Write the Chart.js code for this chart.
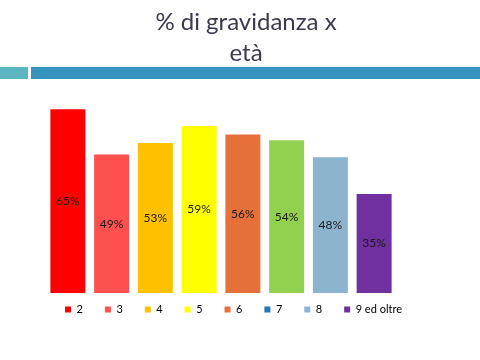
<!DOCTYPE html>
<html>
<head>
<meta charset="utf-8">
<script src="https://cdn.jsdelivr.net/npm/chart.js@4"></script>
<style>
html,body{margin:0;padding:0;background:#fff;}
#wrap{width:480px;height:360px;position:relative;}
</style>
</head>
<body>
<div id="wrap"><canvas id="c" width="480" height="360"></canvas></div>
<script>
const titleLines = ['% di gravidanza x', 'età'];
const categories = ['2', '3', '4', '5', '6', '7', '8', '9 ed oltre'];
const values = [65, 49, 53, 59, 56, 54, 48, 35];
const valueLabels = ['65%', '49%', '53%', '59%', '56%', '54%', '48%', '35%'];
const barColors = ['#FF0000', '#FF5050', '#FFC000', '#FFFF00', '#E5703A', '#92D050', '#8DB4CE', '#7030A0'];
const legendColors = ['#FF0000', '#FF5050', '#FFC000', '#FFFF00', '#E5703A', '#2C74B2', '#8DB4CE', '#7030A0'];

const decoPlugin = {
  id: 'deco',
  beforeDraw(chart) {
    const ctx = chart.ctx;
    ctx.save();
    ctx.fillStyle = '#5BB5C0';
    ctx.fillRect(0, 67, 28, 12);
    ctx.fillStyle = '#3593BC';
    ctx.fillRect(31, 67, 449, 12);
    ctx.fillStyle = '#3a3a4c';
    ctx.font = '24px Lato';
    ctx.textAlign = 'center';
    ctx.textBaseline = 'alphabetic';
    ctx.fillText(titleLines[0], 246, 30);
    ctx.fillText(titleLines[1], 246, 61);
    ctx.restore();
  }
};

const legendShift = {
  id: 'legendShift',
  afterLayout(chart) {
    if (chart.legend) {
      chart.legend.top -= 11;
      chart.legend.bottom -= 11;
    }
  }
};

const labelPlugin = {
  id: 'barLabels',
  afterDatasetsDraw(chart) {
    const ctx = chart.ctx;
    const meta = chart.getDatasetMeta(0);
    ctx.save();
    ctx.font = '12px Lato';
    ctx.fillStyle = '#1a1a1a';
    ctx.textAlign = 'center';
    ctx.textBaseline = 'middle';
    meta.data.forEach((bar, i) => {
      const y = (bar.y + bar.base) / 2;
      ctx.fillText(valueLabels[i], bar.x, y);
    });
    ctx.restore();
  }
};

const hiddenAxis = (pos, w) => ({
  position: pos,
  min: 0,
  max: 70,
  grid: { display: false, drawTicks: false },
  border: { display: false },
  ticks: { display: false },
  afterFit(scale) { scale.width = w; }
});

new Chart(document.getElementById('c'), {
  type: 'bar',
  data: {
    labels: categories,
    datasets: [{
      data: values,
      backgroundColor: barColors,
      borderWidth: 0,
      categoryPercentage: 1.0,
      barPercentage: 0.8,
      yAxisID: 'y'
    }]
  },
  options: {
    responsive: false,
    animation: false,
    layout: { padding: { left: 43, right: 0, top: 95, bottom: 24 } },
    scales: {
      x: { display: false },
      y: hiddenAxis('left', 3),
      y2: hiddenAxis('right', 84)
    },
    plugins: {
      title: { display: false },
      legend: {
        display: true,
        position: 'bottom',
        align: 'start',
        labels: {
          boxWidth: 6,
          boxHeight: 6,
          padding: 22,
          color: '#000',
          font: { family: 'Lato', size: 11 },
          generateLabels() {
            return categories.map((c, i) => ({
              text: c,
              fillStyle: legendColors[i],
              strokeStyle: legendColors[i],
              lineWidth: 0,
              hidden: false,
              index: i
            }));
          }
        },
        onClick() {}
      },
      tooltip: { enabled: false }
    }
  },
  plugins: [decoPlugin, labelPlugin, legendShift]
});
</script>
</body>
</html>
